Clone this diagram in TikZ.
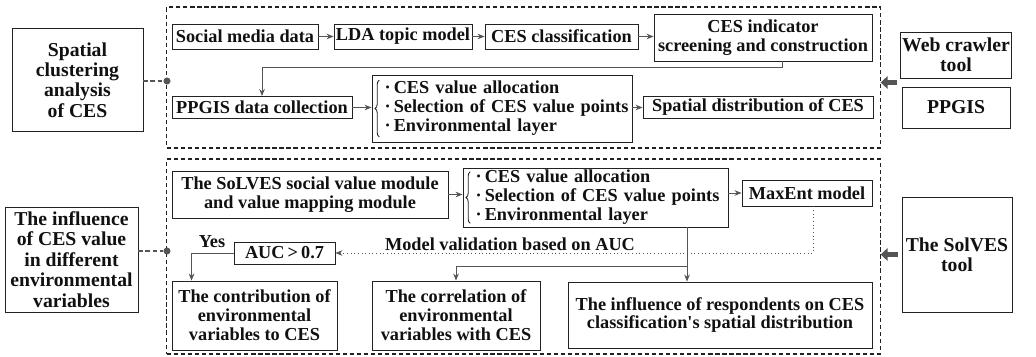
\documentclass[tikz,border=0pt]{standalone}
\usepackage{fontspec}
\setmainfont{Liberation Serif}
\usetikzlibrary{arrows.meta, positioning, calc, decorations.pathreplacing}
\definecolor{FrameBlack}{HTML}{222222}
\definecolor{LineGray}{HTML}{555555}
\definecolor{TextBlack}{HTML}{111111}
\tikzset{
    % Node styles
    stepbox/.style={
        rectangle,
        draw=FrameBlack,
        line width=0.6pt,
        fill=white,
        inner sep=1pt,
        text=TextBlack,
        text centered,
        font=\fontsize{13}{13.5}\selectfont\bfseries
    },
    sidebox/.style={
        stepbox,
        align=center,
        font=\fontsize{14}{14.5}\selectfont\bfseries
    },
    listbox/.style={
        stepbox,
        align=left,
        inner xsep=0pt,
        text width=#1
    },
    groupbox/.style={
        rectangle,
        draw=FrameBlack,
        line width=0.8pt,
        dash pattern=on 3pt off 2pt
    },
    dotnode/.style={
        circle,
        fill=LineGray,
        inner sep=0pt,
        minimum size=5pt
    },
    labeltext/.style={
        text=TextBlack,
        inner sep=1pt,
        font=\fontsize{13}{13.5}\selectfont\bfseries
    },
    listbrace/.style={
        decorate,
        decoration={brace, amplitude=3pt},
        line width=0.6pt,
        FrameBlack
    },
    % Arrow styles
    myarrow/.style={
        -{Stealth[length=5pt,width=4pt]},
        line width=0.6pt,
        LineGray
    },
    dotarrow/.style={
        myarrow,
        dotted
    },
    dashline/.style={
        line width=0.9pt,
        LineGray,
        dash pattern=on 3pt off 2pt
    },
    fatarrow/.style={
        -{Triangle[length=5pt,width=9pt]},
        line width=3pt,
        LineGray,
        shorten <=1mm
    }
}

\begin{document}
\begin{tikzpicture}[x=0.025cm, y=-0.025cm]
    \useasboundingbox (0,0) rectangle (1036,356);

    % Groups
    \node[groupbox, minimum width=17.825cm, minimum height=3.525cm] (topgrp) at (523.5,77.5) {};
    \node[groupbox, minimum width=17.825cm, minimum height=4.875cm] (botgrp) at (523.5,256.5) {};

    % Side boxes
    \node[sidebox, minimum width=3.275cm, minimum height=2.575cm] (spatial) at (77.5,80) {Spatial\\clustering\\analysis\\of CES};
    \node[sidebox, minimum width=3.325cm, minimum height=2.625cm] (influence) at (71.5,259.5) {The influence\\of CES value\\in different\\environmental\\variables};
    \node[sidebox, minimum width=2.7cm, minimum height=1.15cm] (web) at (956,55) {Web crawler\\tool};
    \node[sidebox, minimum width=2.7cm, minimum height=1.025cm] (ppgis) at (956,107.5) {PPGIS};
    \node[sidebox, minimum width=2.75cm, minimum height=2.875cm] (solves) at (957,254.5) {The SolVES\\tool};

    % Top group, row 1
    \node[stepbox, minimum width=3.65cm, minimum height=0.625cm] (social) at (245,36.5) {Social media data};
    \node[stepbox, minimum width=3.45cm, minimum height=0.625cm] (lda) at (403,36.5) {LDA topic model};
    \node[stepbox, minimum width=3.825cm, minimum height=0.625cm] (cesclass) at (561.5,36.5) {CES classification};
    \node[stepbox, align=center, minimum width=5.45cm, minimum height=1.175cm] (indicator) at (763,37.5) {CES indicator\\screening and construction};

    % Top group, row 2
    \node[stepbox, minimum width=4.5cm, minimum height=0.55cm] (ppgiscol) at (262,107.5) {PPGIS data collection};
    \node[listbox=6.5cm, minimum height=1.675cm] (list1) at (502,108.5) {\leftskip=9pt ·\,CES value allocation\\·\,Selection of CES value points\\·\,Environmental layer\par};
    \node[stepbox, minimum width=5.75cm, minimum height=0.55cm] (spatdist) at (758,107.5) {Spatial distribution of CES};

    % Bottom group
    \node[stepbox, align=center, minimum width=6.9cm, minimum height=1.175cm] (module) at (310,194.5) {The SoLVES social value module\\and value mapping module};
    \node[listbox=6.625cm, minimum height=1.475cm] (list2) at (595.5,197.5) {\leftskip=9pt ·\,CES value allocation\\·\,Selection of CES value points\\·\,Environmental layer\par};
    \node[stepbox, minimum width=3.25cm, minimum height=0.65cm] (maxent) at (807,193) {MaxEnt model};
    \node[stepbox, minimum width=2.525cm, minimum height=0.55cm] (auc) at (284.5,253) {AUC\,\textgreater\,0.7};
    \node[labeltext] (yes) at (212,242) {Yes};
    \node[labeltext] (mvlabel) at (510,244) {Model validation based on AUC};
    \node[stepbox, align=center, minimum width=4.125cm, minimum height=1.725cm] (contrib) at (254.5,315.5) {The contribution of\\environmental\\variables to CES};
    \node[stepbox, align=center, minimum width=4.2cm, minimum height=1.725cm] (correl) at (456,315.5) {The correlation of\\environmental\\variables with CES};
    \node[stepbox, align=center, minimum width=7.6cm, minimum height=1.65cm] (respond) at (720,315) {The influence of respondents on CES\\classification\textquotesingle s spatial distribution};

    % List braces
    \draw[listbrace] ([xshift=5.5pt,yshift=4pt]list1.south west) -- ([xshift=5.5pt,yshift=-4pt]list1.north west);
    \draw[listbrace] ([xshift=5.5pt,yshift=3pt]list2.south west) -- ([xshift=5.5pt,yshift=-3pt]list2.north west);

    % Side links
    \node[dotnode] (dot1) at (167,81) {};
    \node[dotnode] (dot2) at (167,251) {};
    \draw[dashline] (spatial.east |- dot1) -- (dot1);
    \draw[dashline] (influence.east |- dot2) -- (dot2);
    \coordinate (webin) at ($(web.south west)!0.5!(ppgis.north west)$);
    \draw[fatarrow] (webin) -- (webin -| topgrp.east);
    \draw[fatarrow] (solves.west) -- (solves.west -| botgrp.east);

    % Top flow
    \draw[myarrow] (social) -- (lda);
    \draw[myarrow] (lda) -- (cesclass);
    \draw[myarrow] (cesclass.east) -- (indicator.west |- cesclass.east);
    \coordinate (turn1) at (782,67);
    \draw[myarrow] (indicator.south -| turn1) |- (ppgiscol.north |- turn1) -- (ppgiscol.north);
    \draw[myarrow] (ppgiscol.east) -- (list1.west |- ppgiscol.east);
    \draw[myarrow] (list1.east |- spatdist.west) -- (spatdist.west);

    % Bottom flow
    \draw[myarrow] (module.east) -- (list2.west |- module.east);
    \draw[myarrow] (list2.east |- maxent.west) -- (maxent.west);
    \draw[dotarrow] ([xshift=1.5mm]maxent.south) |- (auc.east);
    \draw[myarrow] (auc.west) -| ($(contrib.north west)+(20,0)$);
    \coordinate (split) at (687,266);
    \draw[myarrow] (list2.south -| split) -- (respond.north -| split);
    \draw[myarrow] (split) -| (correl.north);
\end{tikzpicture}
\end{document}
